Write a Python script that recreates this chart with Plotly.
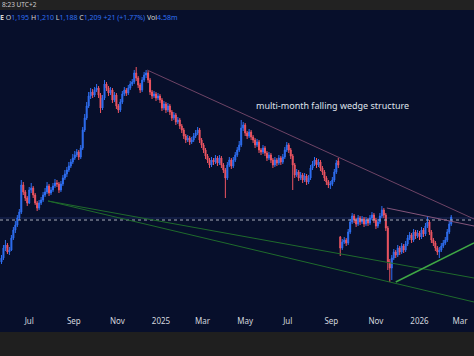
import pandas as pd
import plotly.graph_objects as go

# ---- candle data (2-session bars) ----
opens = [760, 800, 900, 930, 860, 880, 1000, 1080, 1130, 1200,
         1260, 1530, 1460, 1400, 1350, 1480, 1500, 1430, 1350, 1300,
         1350, 1380, 1430, 1460, 1520, 1450, 1480, 1520, 1550, 1540,
         1480, 1540, 1600, 1640, 1680, 1720, 1760, 1800, 1830, 1860,
         1810, 1900, 2080, 2200, 2320, 2420, 2460, 2430, 2480, 2500,
         2430, 2300, 2400, 2540, 2500, 2450, 2480, 2380, 2430, 2320,
         2280, 2360, 2440, 2480, 2450, 2500, 2540, 2560, 2650, 2600,
         2530, 2480, 2580, 2630, 2650, 2580, 2460, 2420, 2440, 2400,
         2420, 2380, 2300, 2340, 2280, 2320, 2260, 2200, 2230, 2160,
         2180, 2120, 2080, 2020, 1980, 2000, 1960, 1980, 2020, 2050,
         2080, 1980, 1930, 1880, 1820, 1780, 1730, 1780, 1760, 1800,
         1750, 1800, 1730, 1680, 1600, 1730, 1780, 1720, 1780, 1830,
         1880, 1930, 2100, 2130, 2050, 2020, 2060, 2010, 1980, 1930,
         1960, 1880, 1860, 1900, 1850, 1800, 1830, 1780, 1730, 1780,
         1750, 1800, 1760, 1810, 1880, 1930, 1880, 1820, 1730, 1630,
         1660, 1600, 1630, 1580, 1620, 1560, 1600, 1700, 1740, 1780,
         1730, 1760, 1700, 1660, 1600, 1560, 1530, 1540, 1580, 1660,
         1770, 1010, 900, 960, 980, 950, 1060, 1160, 1220, 1180,
         1140, 1200, 1160, 1190, 1140, 1180, 1150, 1200, 1230, 1180,
         1120, 1160, 1220, 1280, 1230, 1100, 760, 700, 800, 860,
         830, 900, 860, 920, 880, 940, 1000, 1030, 980, 1060,
         1020, 1050, 1010, 1080, 1040, 1120, 1160, 1060, 980, 950,
         900, 860, 880, 920, 950, 980, 1060, 1140]
highs = [830, 930, 980, 950, 910, 1030, 1110, 1170, 1230, 1290,
         1580, 1560, 1480, 1420, 1510, 1550, 1520, 1450, 1370, 1380,
         1410, 1460, 1500, 1560, 1540, 1510, 1550, 1590, 1580, 1560,
         1570, 1630, 1680, 1710, 1760, 1790, 1840, 1870, 1890, 1880,
         1930, 2110, 2240, 2360, 2460, 2500, 2490, 2510, 2540, 2520,
         2450, 2430, 2580, 2560, 2520, 2510, 2500, 2460, 2450, 2340,
         2390, 2470, 2510, 2500, 2530, 2570, 2590, 2680, 2710, 2620,
         2550, 2610, 2660, 2680, 2670, 2600, 2480, 2470, 2460, 2450,
         2440, 2400, 2370, 2360, 2350, 2340, 2280, 2260, 2250, 2210,
         2200, 2140, 2100, 2040, 2030, 2020, 2010, 2050, 2080, 2110,
         2100, 2000, 1950, 1900, 1840, 1800, 1810, 1800, 1830, 1820,
         1830, 1820, 1750, 1700, 1760, 1810, 1800, 1810, 1860, 1910,
         1970, 2180, 2160, 2150, 2070, 2090, 2080, 2030, 2000, 1990,
         1980, 1900, 1930, 1920, 1870, 1860, 1850, 1800, 1810, 1800,
         1830, 1820, 1840, 1910, 1960, 1950, 1900, 1840, 1750, 1690,
         1680, 1660, 1650, 1650, 1640, 1630, 1730, 1770, 1810, 1800,
         1790, 1780, 1720, 1680, 1620, 1580, 1570, 1610, 1690, 1780,
         1800, 1020, 990, 1010, 1000, 1090, 1190, 1250, 1240, 1200,
         1230, 1220, 1220, 1210, 1210, 1200, 1230, 1260, 1250, 1200,
         1190, 1250, 1320, 1300, 1250, 1120, 790, 830, 890, 880,
         930, 920, 950, 940, 970, 1030, 1060, 1050, 1090, 1080,
         1080, 1070, 1110, 1100, 1150, 1220, 1180, 1080, 1000, 970,
         920, 910, 950, 980, 1010, 1090, 1170, 1230]
lows = [740, 780, 870, 840, 830, 870, 980, 1050, 1110, 1180,
        1240, 1430, 1370, 1320, 1340, 1450, 1400, 1330, 1270, 1280,
        1330, 1360, 1410, 1440, 1420, 1430, 1460, 1500, 1510, 1450,
        1460, 1520, 1580, 1610, 1660, 1700, 1740, 1780, 1810, 1780,
        1790, 1880, 2060, 2180, 2300, 2390, 2400, 2410, 2460, 2400,
        2250, 2280, 2380, 2470, 2420, 2430, 2350, 2360, 2290, 2250,
        2260, 2340, 2420, 2420, 2430, 2480, 2520, 2540, 2570, 2500,
        2450, 2460, 2560, 2600, 2550, 2430, 2390, 2400, 2370, 2380,
        2350, 2270, 2280, 2250, 2260, 2230, 2170, 2180, 2130, 2140,
        2090, 2050, 1990, 1950, 1960, 1930, 1940, 1960, 2000, 2030,
        1950, 1900, 1850, 1790, 1750, 1700, 1710, 1730, 1740, 1720,
        1730, 1700, 1650, 1400, 1580, 1710, 1690, 1700, 1760, 1810,
        1860, 1910, 2070, 2020, 1990, 2000, 1980, 1950, 1900, 1910,
        1850, 1830, 1840, 1820, 1770, 1780, 1750, 1700, 1710, 1720,
        1730, 1730, 1740, 1790, 1860, 1850, 1790, 1480, 1600, 1610,
        1570, 1580, 1550, 1560, 1530, 1540, 1580, 1680, 1720, 1700,
        1710, 1670, 1630, 1570, 1530, 1500, 1490, 1520, 1560, 1640,
        1700, 820, 880, 940, 920, 930, 1040, 1140, 1150, 1110,
        1120, 1130, 1140, 1110, 1120, 1120, 1130, 1180, 1150, 1090,
        1100, 1140, 1200, 1200, 1070, 680, 560, 580, 780, 800,
        810, 830, 840, 850, 860, 920, 980, 950, 960, 990,
        1000, 980, 990, 1010, 1020, 1100, 1030, 950, 920, 870,
        830, 800, 860, 900, 930, 960, 1040, 1120]
closes = [800, 900, 930, 860, 880, 1000, 1080, 1130, 1200, 1260,
          1530, 1460, 1400, 1350, 1480, 1500, 1430, 1350, 1300, 1350,
          1380, 1430, 1460, 1520, 1450, 1480, 1520, 1550, 1540, 1480,
          1540, 1600, 1640, 1680, 1720, 1760, 1800, 1830, 1860, 1810,
          1900, 2080, 2200, 2320, 2420, 2460, 2430, 2480, 2500, 2430,
          2300, 2400, 2540, 2500, 2450, 2480, 2380, 2430, 2320, 2280,
          2360, 2440, 2480, 2450, 2500, 2540, 2560, 2650, 2600, 2530,
          2480, 2580, 2630, 2650, 2580, 2460, 2420, 2440, 2400, 2420,
          2380, 2300, 2340, 2280, 2320, 2260, 2200, 2230, 2160, 2180,
          2120, 2080, 2020, 1980, 2000, 1960, 1980, 2020, 2050, 2080,
          1980, 1930, 1880, 1820, 1780, 1730, 1780, 1760, 1800, 1750,
          1800, 1730, 1680, 1600, 1730, 1780, 1720, 1780, 1830, 1880,
          1930, 2100, 2130, 2050, 2020, 2060, 2010, 1980, 1930, 1960,
          1880, 1860, 1900, 1850, 1800, 1830, 1780, 1730, 1780, 1750,
          1800, 1760, 1810, 1880, 1930, 1880, 1820, 1730, 1630, 1660,
          1600, 1630, 1580, 1620, 1560, 1600, 1700, 1740, 1780, 1730,
          1760, 1700, 1660, 1600, 1560, 1530, 1540, 1580, 1660, 1750,
          1730, 900, 960, 980, 950, 1060, 1160, 1220, 1180, 1140,
          1200, 1160, 1190, 1140, 1180, 1150, 1200, 1230, 1180, 1120,
          1160, 1220, 1280, 1230, 1100, 760, 700, 800, 860, 830,
          900, 860, 920, 880, 940, 1000, 1030, 980, 1060, 1020,
          1050, 1010, 1080, 1040, 1120, 1160, 1060, 980, 950, 900,
          860, 880, 920, 950, 980, 1060, 1140, 1209]

# dates: one bar every two sessions
sessions = pd.bdate_range("2024-05-22", periods=2 * len(closes))
dates = sessions[::2]

# axis ticks
tick_dates = ["2024-07-01", "2024-09-02", "2024-11-01", "2025-01-02", "2025-03-03",
              "2025-05-01", "2025-07-01", "2025-09-01", "2025-11-03", "2026-01-02",
              "2026-03-02"]
tick_labels = ["Jul", "Sep", "Nov", "2025", "Mar", "May", "Jul", "Sep", "Nov", "2026", "Mar"]

# drawn trend lines: (start date, start price, end date, end price)
upper_wedge = ("2024-12-13", 2680, "2026-03-20", 1190)
recent_top = ("2025-11-18", 1300, "2026-03-20", 1120)
lower_green_a = ("2024-07-26", 1370, "2026-03-20", 600)
lower_green_b = ("2024-07-26", 1370, "2026-03-20", 360)
rising_support = ("2025-12-01", 560, "2026-03-20", 950)
dashed_level = 1180
price_line = 1200

NAVY = "#070f2b"
GREY = "#1f1f1f"

fig = go.Figure()
fig.add_trace(go.Candlestick(
    x=dates, open=opens, high=highs, low=lows, close=closes,
    increasing=dict(line=dict(color="#2f6ff2", width=1), fillcolor="#2f6ff2"),
    decreasing=dict(line=dict(color="#ee5562", width=1), fillcolor="#ee5562"),
    whiskerwidth=0, hoverinfo="skip",
))

def tline(spec, color, width):
    x0, y0, x1, y1 = spec
    fig.add_shape(type="line", xref="x", yref="y", x0=x0, y0=y0, x1=x1, y1=y1,
                  line=dict(color=color, width=width), layer="above")

fig.add_shape(type="line", xref="paper", yref="y", x0=0, x1=1, y0=price_line, y1=price_line,
              line=dict(color="#1d2b5c", width=1), layer="below")
fig.add_shape(type="line", xref="paper", yref="y", x0=0, x1=1, y0=dashed_level, y1=dashed_level,
              line=dict(color="#a9aebb", width=1, dash="3px,3px"), layer="above")

tline(upper_wedge, "#6e4466", 1)
tline(recent_top, "#85567b", 1)
tline(lower_green_a, "#1f6b2c", 1)
tline(lower_green_b, "#1f6b2c", 1)
tline(rising_support, "#3fa845", 1.5)

# top and bottom grey bands (paper coords beyond the plot area)
fig.add_shape(type="rect", xref="paper", yref="paper", x0=-0.01, x1=1.01, y0=1.0033, y1=1.2,
              fillcolor="#222222", line=dict(width=0), layer="below")
fig.add_shape(type="rect", xref="paper", yref="paper", x0=-0.01, x1=1.01, y0=-0.0559, y1=-0.3,
              fillcolor=GREY, line=dict(width=0), layer="below")

fig.add_annotation(xref="paper", yref="paper", x=0.0, y=1.0198, xanchor="left", yanchor="middle",
                   text="8:23 UTC+2", showarrow=False,
                   font=dict(family="Noto Sans", size=6.5, color="#cfcfcf"))
blue = "#2f6ff2"
hdr = ("<b>E</b> O<span style='color:%s'>1,195</span> H<span style='color:%s'>1,210</span> "
       "L<span style='color:%s'>1,188</span> C<span style='color:%s'>1,209</span> "
       "<span style='color:%s'>+21 (+1.77%%)</span> Vol<span style='color:%s'>4.58m</span>") % (
    blue, blue, blue, blue, blue, blue)
fig.add_annotation(xref="paper", yref="paper", x=-0.004, y=0.9802, xanchor="left", yanchor="middle",
                   text=hdr, showarrow=False,
                   font=dict(family="Noto Sans", size=7, color="#d6d6d6"))

fig.add_annotation(xref="x", yref="y", x="2025-09-02", y=2330, xanchor="center", yanchor="middle",
                   text="multi-month falling wedge structure", showarrow=False,
                   font=dict(family="Noto Sans", size=9, color="#dfe2ea"))

fig.update_layout(
    width=474, height=356,
    margin=dict(l=0, r=0, t=11, b=41),
    paper_bgcolor=NAVY, plot_bgcolor=NAVY,
    showlegend=False,
    xaxis=dict(
        type="date",
        range=["2024-05-20 12:00", "2026-03-20"],
        rangebreaks=[dict(bounds=["sat", "mon"])],
        rangeslider=dict(visible=False),
        tickvals=tick_dates, ticktext=tick_labels,
        showgrid=False, zeroline=False, showline=False, ticks="",
        tickfont=dict(family="Noto Sans", size=8, color="#d4d7df"),
    ),
    yaxis=dict(range=[230, 3270], showgrid=False, zeroline=False,
               showticklabels=False, showline=False, ticks=""),
)

fig.write_html("out.html", config={"displayModeBar": False},
               post_script="document.body.style.margin='0';document.body.style.padding='0';")
